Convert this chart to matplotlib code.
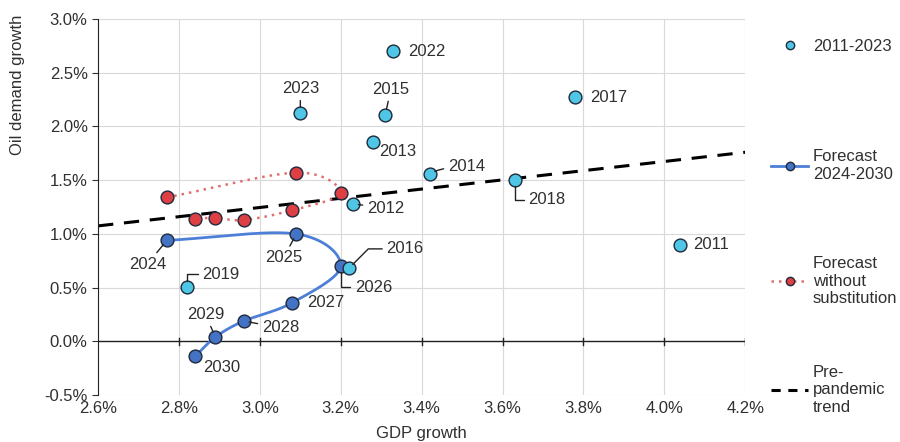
import numpy as np
import matplotlib.pyplot as plt
from matplotlib.lines import Line2D
from matplotlib.ticker import FuncFormatter

plt.rcParams['font.family'] = ['Liberation Sans', 'DejaVu Sans']

# historical observations, 2011-2023 (GDP growth %, oil demand growth %)
hist_years = ['2011', '2012', '2013', '2014', '2015', '2016', '2017',
              '2018', '2019', '2022', '2023']
hist_gdp = [4.04, 3.23, 3.28, 3.42, 3.31, 3.22, 3.78, 3.63, 2.82, 3.33, 3.10]
hist_oil = [0.90, 1.28, 1.86, 1.56, 2.11, 0.68, 2.27, 1.50, 0.51, 2.70, 2.13]

# forecast path 2024-2030
fc_years = ['2024', '2025', '2026', '2027', '2028', '2029', '2030']
fc_gdp = [2.77, 3.09, 3.20, 3.08, 2.96, 2.89, 2.84]
fc_oil = [0.94, 1.00, 0.70, 0.36, 0.19, 0.04, -0.14]

# same path without substitution
nosub_oil = [1.34, 1.57, 1.38, 1.22, 1.13, 1.15, 1.14]

# pre-pandemic trend line end points
trend_gdp = [2.6, 4.2]
trend_oil = [1.075, 1.76]

# label offsets in points: (dx, dy, ha, leader line connection)
label_pos = {
    '2022': (11, 0, 'left', None), '2023': (0, 17, 'center', 'arc3'),
    '2015': (4, 18, 'center', 'arc3'), '2013': (4, -7, 'left', None),
    '2014': (13, 5, 'left', 'angle3,angleA=0,angleB=30'), '2012': (10, -3, 'left', 'arc3'),
    '2018': (10, -14, 'left', 'angle,angleA=0,angleB=90,rad=0'),
    '2017': (11, 0, 'left', None), '2011': (9, 0, 'left', None),
    '2016': (27, 14, 'left', 'angle,angleA=0,angleB=45,rad=0'),
    '2019': (11, 9, 'left', 'angle,angleA=0,angleB=90,rad=0'),
    '2024': (-14, -17, 'center', 'arc3'), '2025': (-9, -17, 'center', 'arc3'),
    '2026': (10, -15, 'left', 'angle,angleA=0,angleB=90,rad=0'),
    '2027': (11, 0, 'left', None), '2028': (13, -5, 'left', 'arc3'),
    '2029': (-7, 16, 'center', 'arc3'), '2030': (6, -8, 'left', None),
}

CYAN = '#4fc6e6'
BLUE = '#4472c4'
BLUE_LINE = '#4e7fd8'
RED = '#dd3f44'
RED_LINE = '#e07070'
EDGE = '#1f2a3a'
TXT = '#303030'
FS = 12


def smooth(xs, ys, n=30):
    # Catmull-Rom spline through the points, like a smoothed spreadsheet line
    p = np.column_stack([xs, ys])
    p = np.vstack([p[0] * 2 - p[1], p, p[-1] * 2 - p[-2]])
    out = []
    for i in range(1, len(p) - 2):
        p0, p1, p2, p3 = p[i - 1], p[i], p[i + 1], p[i + 2]
        t = np.linspace(0, 1, n)[:, None]
        seg = 0.5 * ((2 * p1) + (-p0 + p2) * t + (2 * p0 - 5 * p1 + 4 * p2 - p3) * t ** 2
                     + (-p0 + 3 * p1 - 3 * p2 + p3) * t ** 3)
        out.append(seg)
    out = np.vstack(out)
    return out[:, 0], out[:, 1]


fig = plt.figure(figsize=(9, 4.42), dpi=100)
ax = fig.add_axes([0.109, 0.106, 0.719, 0.851])

ax.set_xlim(2.6, 4.2)
ax.set_ylim(-0.5, 3.0)
ax.set_xticks(np.arange(2.6, 4.21, 0.2))
ax.set_yticks(np.arange(-0.5, 3.01, 0.5))
ax.xaxis.set_major_formatter(FuncFormatter(lambda v, _: f'{v:.1f}%'))
ax.yaxis.set_major_formatter(FuncFormatter(lambda v, _: f'{v:.1f}%'))
ax.grid(True, color='#d9d9d9', linewidth=0.8)
ax.set_axisbelow(True)
for side in ['top', 'right', 'bottom']:
    ax.spines[side].set_visible(False)
ax.spines['left'].set_color('#222222')
ax.axhline(0, color='#222222', linewidth=1.0, zorder=1)
ax.tick_params(axis='x', length=0, labelsize=FS, colors=TXT, pad=4)
ax.tick_params(axis='y', length=4, labelsize=FS, colors=TXT)
for xv in np.arange(2.8, 4.21, 0.2):
    ax.plot([xv, xv], [-0.035, 0.035], color='#222222', linewidth=1.0, zorder=1)
ax.set_xlabel('GDP growth', fontsize=FS, color=TXT)
ax.set_ylabel('Oil demand growth', fontsize=FS, color=TXT)
ax.xaxis.set_label_coords(0.5, -0.082)
ax.yaxis.set_label_coords(-0.113, 0.824)

# pre-pandemic trend
ax.plot(trend_gdp, trend_oil, color='black', linestyle=(0, (5, 3.5)), linewidth=2.2, zorder=2)

# forecast without substitution
sx, sy = smooth(fc_gdp, nosub_oil)
ax.plot(sx, sy, color=RED_LINE, linestyle=(0, (1, 2)), linewidth=1.8, zorder=3)
ax.scatter(fc_gdp, nosub_oil, s=85, color=RED, edgecolor=EDGE, linewidth=1.0, zorder=4)

# forecast 2024-2030
bx, by = smooth(fc_gdp, fc_oil)
ax.plot(bx, by, color=BLUE_LINE, linewidth=2.0, zorder=3)
ax.scatter(fc_gdp, fc_oil, s=85, color=BLUE, edgecolor=EDGE, linewidth=1.0, zorder=4)

# historical points
ax.scatter(hist_gdp, hist_oil, s=85, color=CYAN, edgecolor=EDGE, linewidth=1.0, zorder=5)

points = list(zip(hist_years, hist_gdp, hist_oil)) + list(zip(fc_years, fc_gdp, fc_oil))
for year, gx, oy in points:
    dx, dy, ha, conn = label_pos[year]
    arrow = None
    if conn is not None:
        arrow = dict(arrowstyle='-', color='#222222', linewidth=1.0,
                     connectionstyle=conn, shrinkA=1, shrinkB=4)
    ax.annotate(year, (gx, oy), xytext=(dx, dy), textcoords='offset points',
                ha=ha, va='center', fontsize=FS, color=TXT,
                arrowprops=arrow, zorder=6)

# legend entries stacked down the right side
entries = [
    (Line2D([], [], linestyle='none', marker='o', markersize=6, markerfacecolor=CYAN,
            markeredgecolor=EDGE), '2011-2023', 0.912),
    (Line2D([], [], color=BLUE_LINE, linewidth=2, marker='o', markersize=6,
            markerfacecolor=BLUE, markeredgecolor=EDGE), 'Forecast\n2024-2030', 0.662),
    (Line2D([], [], color=RED_LINE, linestyle=(0, (1, 2)), linewidth=1.8, marker='o',
            markersize=6, markerfacecolor=RED, markeredgecolor=EDGE),
     'Forecast\nwithout\nsubstitution', 0.420),
    (Line2D([], [], color='black', linestyle=(0, (3, 2.5)), linewidth=2.2),
     'Pre-\npandemic\ntrend', 0.174),
]
for handle, text, ytop in entries:
    fig.legend([handle], [text], loc='upper left', bbox_to_anchor=(0.857, ytop),
               frameon=False, fontsize=FS, handlelength=2.2, handletextpad=0.3,
               borderaxespad=0, borderpad=0, labelspacing=0.2, labelcolor=TXT)

fig.savefig('out.png', dpi=100)
